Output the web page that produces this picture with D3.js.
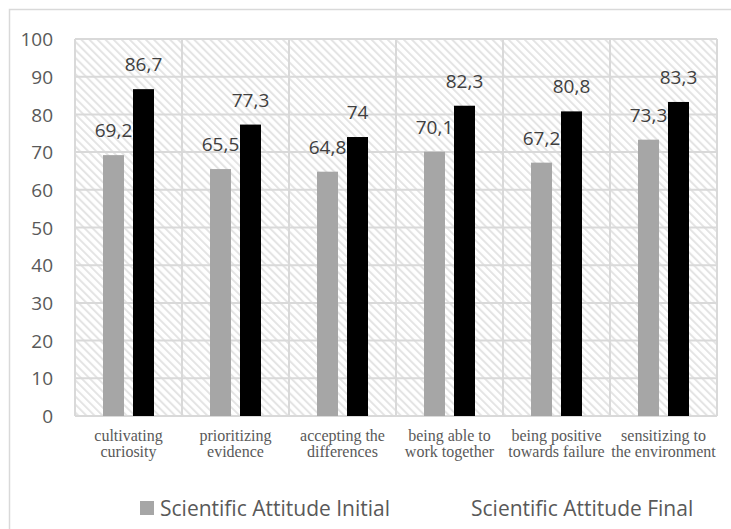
<!DOCTYPE html>
<html>
<head>
<meta charset="utf-8">
<script src="https://cdn.jsdelivr.net/npm/d3@7/dist/d3.min.js"></script>
<style>
  html, body { margin: 0; padding: 0; background: #fff; }
  svg { display: block; }
</style>
</head>
<body>
<svg id="chart" width="731" height="529"></svg>
<script>
// Scientific attitude indicators, initial vs final scores
const categories = [
  ["cultivating", "curiosity"],
  ["prioritizing", "evidence"],
  ["accepting the", "differences"],
  ["being able to", "work together"],
  ["being positive", "towards failure"],
  ["sensitizing to", "the environment"]
];
const seriesNames = ["Scientific Attitude Initial", "Scientific Attitude Final"];
const initialValues = [69.2, 65.5, 64.8, 70.1, 67.2, 73.3];
const finalValues = [86.7, 77.3, 74, 82.3, 80.8, 83.3];
const yTicks = [0, 10, 20, 30, 40, 50, 60, 70, 80, 90, 100];
const seriesColors = ["#a6a6a6", "#000000"];

const svg = d3.select("#chart");
const plot = { left: 75, right: 717, top: 39, bottom: 416 };

// Hatched plot background
const defs = svg.append("defs");
const pat = defs.append("pattern")
  .attr("id", "hatch")
  .attr("patternUnits", "userSpaceOnUse")
  .attr("width", 5.7).attr("height", 5.7)
  .attr("patternTransform", "rotate(-45)");
pat.append("rect").attr("width", 5.7).attr("height", 5.7).attr("fill", "#ffffff");
pat.append("line")
  .attr("x1", 1).attr("y1", 0).attr("x2", 1).attr("y2", 5.7)
  .attr("stroke", "#e4e4e4").attr("stroke-width", 2);

// Chart area frame
svg.append("rect")
  .attr("x", 9.5).attr("y", 9.5)
  .attr("width", 740).attr("height", 540)
  .attr("fill", "#ffffff")
  .attr("stroke", "#d9d9d9").attr("stroke-width", 1.5);

const idx = categories.map((d, i) => i);
const x0 = d3.scaleBand().domain(idx).range([plot.left, plot.right]).padding(0);
const bw = x0.bandwidth();
const x1 = d3.scaleBand().domain([0, 1])
  .range([bw / 2 - 25.5, bw / 2 + 25.5])
  .paddingInner(0.3).paddingOuter(0);
const y = d3.scaleLinear().domain([0, 100]).range([plot.bottom, plot.top]);

svg.append("rect")
  .attr("x", plot.left).attr("y", plot.top)
  .attr("width", plot.right - plot.left).attr("height", plot.bottom - plot.top)
  .attr("fill", "url(#hatch)");

// Gridlines
const grid = svg.append("g").attr("stroke", "#d9d9d9").attr("stroke-width", 2);
grid.selectAll("line.h").data(yTicks).join("line")
  .attr("class", "h")
  .attr("x1", plot.left).attr("x2", plot.right)
  .attr("y1", d => y(d)).attr("y2", d => y(d));
grid.selectAll("line.v").data(d3.range(categories.length + 1)).join("line")
  .attr("class", "v")
  .attr("x1", d => plot.left + d * bw).attr("x2", d => plot.left + d * bw)
  .attr("y1", plot.top).attr("y2", plot.bottom);

// Y axis labels
const yAxis = d3.axisLeft(y).tickValues(yTicks).tickSize(0).tickPadding(0);
const yg = svg.append("g").attr("transform", `translate(53,0)`).call(yAxis);
yg.select(".domain").remove();
yg.selectAll("text")
  .attr("font-family", "'Open Sans', 'Noto Sans', sans-serif")
  .attr("font-size", 19)
  .attr("fill", "#595959")
  .attr("dy", "0.35em");

// Bars
const series = [initialValues, finalValues];
const groups = svg.append("g").selectAll("g").data(series).join("g")
  .attr("fill", (d, s) => seriesColors[s]);
groups.each(function (vals, s) {
  d3.select(this).selectAll("rect").data(vals).join("rect")
    .attr("x", (v, i) => x0(i) + x1(s))
    .attr("width", x1.bandwidth())
    .attr("y", v => y(v))
    .attr("height", v => y(0) - y(v));
});

// Value labels
const fmt = v => String(v).replace(".", ",");
groups.each(function (vals, s) {
  d3.select(this.parentNode).append("g").selectAll("text").data(vals).join("text")
    .attr("x", (v, i) => x0(i) + x1(s) + x1.bandwidth() / 2)
    .attr("y", v => y(v) - 18)
    .attr("text-anchor", "middle")
    .attr("font-family", "'Open Sans', 'Noto Sans', sans-serif")
    .attr("font-size", 19)
    .attr("fill", "#404040")
    .text(fmt);
});

// Category labels
const xl = svg.append("g");
categories.forEach((lines, i) => {
  const t = xl.append("text")
    .attr("x", x0(i) + bw / 2)
    .attr("y", 441)
    .attr("text-anchor", "middle")
    .attr("font-family", "'Liberation Serif', 'Times New Roman', serif")
    .attr("font-size", 16)
    .attr("fill", "#595959");
  lines.forEach((ln, k) => {
    t.append("tspan").attr("x", x0(i) + bw / 2).attr("dy", k === 0 ? 0 : 16).text(ln);
  });
});

// Legend
const legend = svg.append("g");
legend.append("rect")
  .attr("x", 140).attr("y", 501).attr("width", 14).attr("height", 14)
  .attr("fill", seriesColors[0]);
legend.append("text")
  .attr("x", 160).attr("y", 516)
  .attr("font-family", "'Open Sans', 'Noto Sans', sans-serif")
  .attr("font-size", 21).attr("fill", "#595959")
  .text(seriesNames[0]);
legend.append("text")
  .attr("x", 471).attr("y", 516)
  .attr("font-family", "'Open Sans', 'Noto Sans', sans-serif")
  .attr("font-size", 21).attr("fill", "#595959")
  .text(seriesNames[1]);
</script>
</body>
</html>
